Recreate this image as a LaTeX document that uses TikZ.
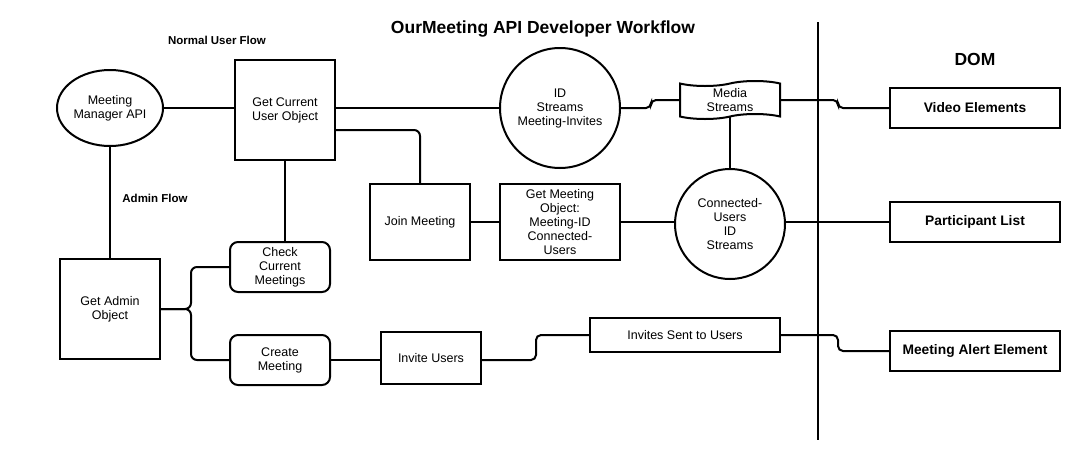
\documentclass[tikz,border=0pt]{standalone}
\usepackage{fontspec}
\setmainfont{Liberation Sans}
\usetikzlibrary{shapes.geometric, shapes.symbols, arrows.meta}

\tikzset{
  box/.style={draw, line width=2pt, align=center, inner sep=1pt,
    font=\fontsize{12.5}{14}\selectfont},
  dombox/.style={box, minimum width=170pt, minimum height=40pt,
    font=\fontsize{13.8}{16}\selectfont\bfseries},
  flowlabel/.style={font=\fontsize{11.5}{13}\selectfont\bfseries},
  heading/.style={font=\fontsize{17.5}{20}\selectfont\bfseries}
}

\begin{document}
\begin{tikzpicture}[x=1pt, y=-1pt, line width=2pt]
    \useasboundingbox (0,0) rectangle (1086,464);

    % Titles
    \node[heading] (title) at (543, 29) {OurMeeting API Developer Workflow};
    \node[heading] (dom) at (975, 59) {DOM};
    \node[flowlabel] (normal) at (217, 40) {Normal User Flow};
    \node[flowlabel] (adminflow) at (155, 198) {Admin Flow};

    % Left column
    \node[box, ellipse, minimum width=100pt, minimum height=76pt] (mgr) at (110, 108) {Meeting\\Manager API};
    \node[box, minimum width=100pt, minimum height=100pt] (usr) at (285, 110) {Get Current\\User Object};
    \node[box, minimum width=100pt, minimum height=100pt] (admin) at (110, 309) {Get Admin\\Object};
    \node[box, rounded corners=8pt, minimum width=100pt, minimum height=50pt] (check) at (280, 267) {Check\\Current\\Meetings};
    \node[box, rounded corners=8pt, minimum width=100pt, minimum height=50pt] (create) at (280, 360) {Create\\Meeting};

    % Middle
    \node[box, circle, minimum size=120pt] (idc) at (560, 108) {ID\\Streams\\Meeting-Invites};
    \node[box, tape, minimum width=100pt, minimum height=38pt] (media) at (730, 100) {Media\\Streams};
    \node[box, minimum width=100pt, minimum height=76pt] (join) at (420, 222) {Join Meeting};
    \node[box, minimum width=120pt, minimum height=76pt] (getm) at (560, 222) {Get Meeting\\Object:\\Meeting-ID\\Connected-\\Users};
    \node[box, circle, minimum size=110pt] (conn) at (730, 224) {Connected-\\Users\\ID\\Streams};
    \node[box, minimum width=100pt, minimum height=52pt] (invite) at (431, 358) {Invite Users};
    \node[box, minimum width=190pt, minimum height=34pt] (sent) at (685, 335) {Invites Sent to Users};

    % DOM elements
    \node[dombox] (video) at (975, 108) {Video Elements};
    \node[dombox] (part) at (975, 222) {Participant List};
    \node[dombox] (alert) at (975, 351) {Meeting Alert Element};

    % Divider
    \coordinate (divtop) at (818, 22);
    \coordinate (divbot) at (818, 440);
    \draw (divtop) -- (divbot);

    % Normal user flow
    \draw (mgr.east) -- (mgr.east -| usr.west);
    \draw (idc.west -| usr.east) -- (idc.west);
    \draw[rounded corners=6pt] ([yshift=-20pt]usr.east) -| (join.north);
    \draw[rounded corners=5pt] (idc.east) -- ++(30,0) |- (media.west);
    \draw[rounded corners=5pt] (media.east) -- ++(57,0) |- (video.west);
    \draw (media.south) -- (conn.north);
    \draw (join.east) -- (getm.west);
    \draw (getm.east) -- (getm.east -| conn.west);
    \draw (part.west -| conn.east) -- (part.west);
    \draw (usr.south) -- (usr.south |- check.north);

    % Admin flow
    \draw (mgr.south) -- (admin.north);
    \draw[rounded corners=6pt] (admin.east) -- ++(30,0) |- (check.west);
    \draw[rounded corners=6pt] (admin.east) -- ++(30,0) |- (create.west);
    \draw (create.east) -- (create.east -| invite.west);
    \draw[rounded corners=5pt] (create.east -| invite.east) -- ++(54,0) |- (sent.west);
    \draw[rounded corners=5pt] (sent.east) -- ++(57,0) |- (alert.west);

\end{tikzpicture}
\end{document}
